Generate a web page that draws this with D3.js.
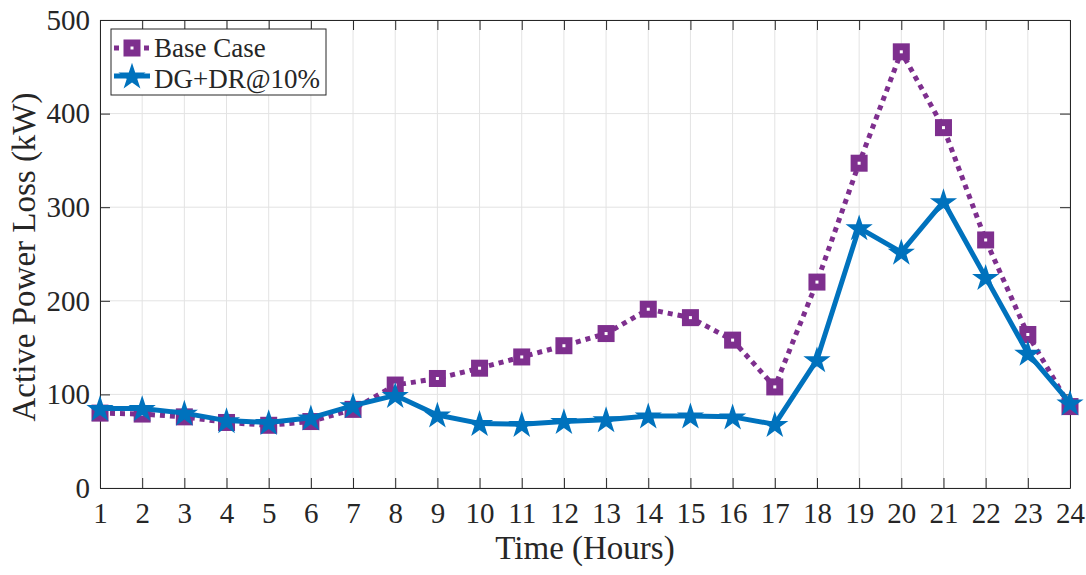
<!DOCTYPE html>
<html lang="en">
<head>
<meta charset="utf-8">
<script src="https://d3js.org/d3.v7.min.js"></script>
<style>
  body { margin: 0; background: #fff; }
  text { font-family: "Liberation Serif", "Times New Roman", serif; fill: #262626; }
</style>
</head>
<body>
<svg width="1086" height="575"></svg>
<script>

var hours = d3.range(1, 25);
var baseCase = [80, 79, 76, 70, 67, 71, 84, 110, 117, 128, 140, 152, 165, 191, 182, 158, 108, 220, 347, 466, 385, 265, 164, 87];
var dgdr = [85, 85, 80, 72, 70, 75, 88, 99, 78, 69, 68, 71, 73, 77, 77, 76, 68, 137, 278, 252, 306, 225, 144, 91];
var yTicks = [0, 100, 200, 300, 400, 500];
var seriesNames = ["Base Case", "DG+DR@10%"];

var purple = "#7E2F8E", blue = "#0072BD";

var svg = d3.select("svg"),
margin = { top: 20, right: 16, bottom: 87, left: 100 },
width = +svg.attr("width") - margin.left - margin.right,
height = +svg.attr("height") - margin.top - margin.bottom,
g = svg.append("g").attr("transform", "translate(" + margin.left + "," + margin.top + ")");

var x = d3.scaleLinear().domain([1, 24]).range([0, width]);
var y = d3.scaleLinear().domain([0, 500]).range([height, 0]);

// grid
g.append("g").selectAll("line").data(hours).enter().append("line")
  .attr("x1", d => x(d)).attr("x2", d => x(d))
  .attr("y1", 0).attr("y2", height)
  .attr("stroke", "#e3e3e3").attr("stroke-width", 1);
g.append("g").selectAll("line").data(yTicks).enter().append("line")
  .attr("x1", 0).attr("x2", width)
  .attr("y1", d => y(d)).attr("y2", d => y(d))
  .attr("stroke", "#e3e3e3").attr("stroke-width", 1);

// axes (ticks inward, box)
function styleAxis(sel) {
  sel.attr("font-family", null);
  sel.select(".domain").attr("stroke", "#262626");
  sel.selectAll(".tick line").attr("stroke", "#262626");
  sel.selectAll("text").attr("font-size", 29).attr("fill", "#262626");
}
g.append("g").attr("transform", "translate(0," + height + ")")
  .call(d3.axisBottom(x).tickValues(hours).tickFormat(d3.format("d")).tickSizeInner(-10).tickSizeOuter(0).tickPadding(14))
  .call(styleAxis);
g.append("g")
  .call(d3.axisLeft(y).tickValues(yTicks).tickSizeInner(-10).tickSizeOuter(0).tickPadding(10))
  .call(styleAxis);
g.append("g")
  .call(d3.axisTop(x).tickValues(hours).tickFormat("").tickSizeInner(-10).tickSizeOuter(0))
  .call(styleAxis);
g.append("g").attr("transform", "translate(" + width + ",0)")
  .call(d3.axisRight(y).tickValues(yTicks).tickFormat("").tickSizeInner(-10).tickSizeOuter(0))
  .call(styleAxis);

// labels
svg.append("text")
  .attr("x", margin.left + width / 2).attr("y", 559)
  .attr("text-anchor", "middle").attr("font-size", 33)
  .text("Time (Hours)");
svg.append("text")
  .attr("transform", "translate(35,257) rotate(-90)")
  .attr("text-anchor", "middle").attr("font-size", 33)
  .text("Active Power Loss (kW)");

var line = d3.line().x((d, i) => x(hours[i])).y(d => y(d));
var star = d3.symbol().type(d3.symbolStar).size(230);

// base case
g.append("path").datum(baseCase)
  .attr("d", line).attr("fill", "none")
  .attr("stroke", purple).attr("stroke-width", 5).attr("stroke-dasharray", "5,5");
g.selectAll(".sq").data(baseCase).enter().append("rect")
  .attr("class", "sq")
  .attr("x", (d, i) => x(hours[i]) - 5).attr("y", d => y(d) - 5)
  .attr("width", 10).attr("height", 10)
  .attr("fill", "#fff").attr("stroke", purple).attr("stroke-width", 7);

// DG+DR
g.append("path").datum(dgdr)
  .attr("d", line).attr("fill", "none")
  .attr("stroke", blue).attr("stroke-width", 5).attr("stroke-linejoin", "round");
g.selectAll(".st").data(dgdr).enter().append("path")
  .attr("class", "st")
  .attr("transform", (d, i) => "translate(" + x(hours[i]) + "," + (y(d) + 1) + ")")
  .attr("d", star).attr("fill", blue);

// legend
var lg = svg.append("g").attr("transform", "translate(111,29)");
lg.append("rect").attr("width", 215).attr("height", 66)
  .attr("fill", "#fff").attr("stroke", "#262626").attr("stroke-width", 1);
lg.append("line").attr("x1", 3).attr("x2", 39).attr("y1", 19).attr("y2", 19)
  .attr("stroke", purple).attr("stroke-width", 5).attr("stroke-dasharray", "5,5");
lg.append("rect").attr("x", 16).attr("y", 14).attr("width", 10).attr("height", 10)
  .attr("fill", "#fff").attr("stroke", purple).attr("stroke-width", 7);
lg.append("line").attr("x1", 3).attr("x2", 39).attr("y1", 47).attr("y2", 47)
  .attr("stroke", blue).attr("stroke-width", 5);
lg.append("path").attr("transform", "translate(21,48)").attr("d", star).attr("fill", blue);
lg.selectAll(".lt").data(seriesNames).enter().append("text")
  .attr("x", 43).attr("y", (d, i) => 28 + i * 31)
  .attr("font-size", 27).text(d => d);

</script>
</body>
</html>
